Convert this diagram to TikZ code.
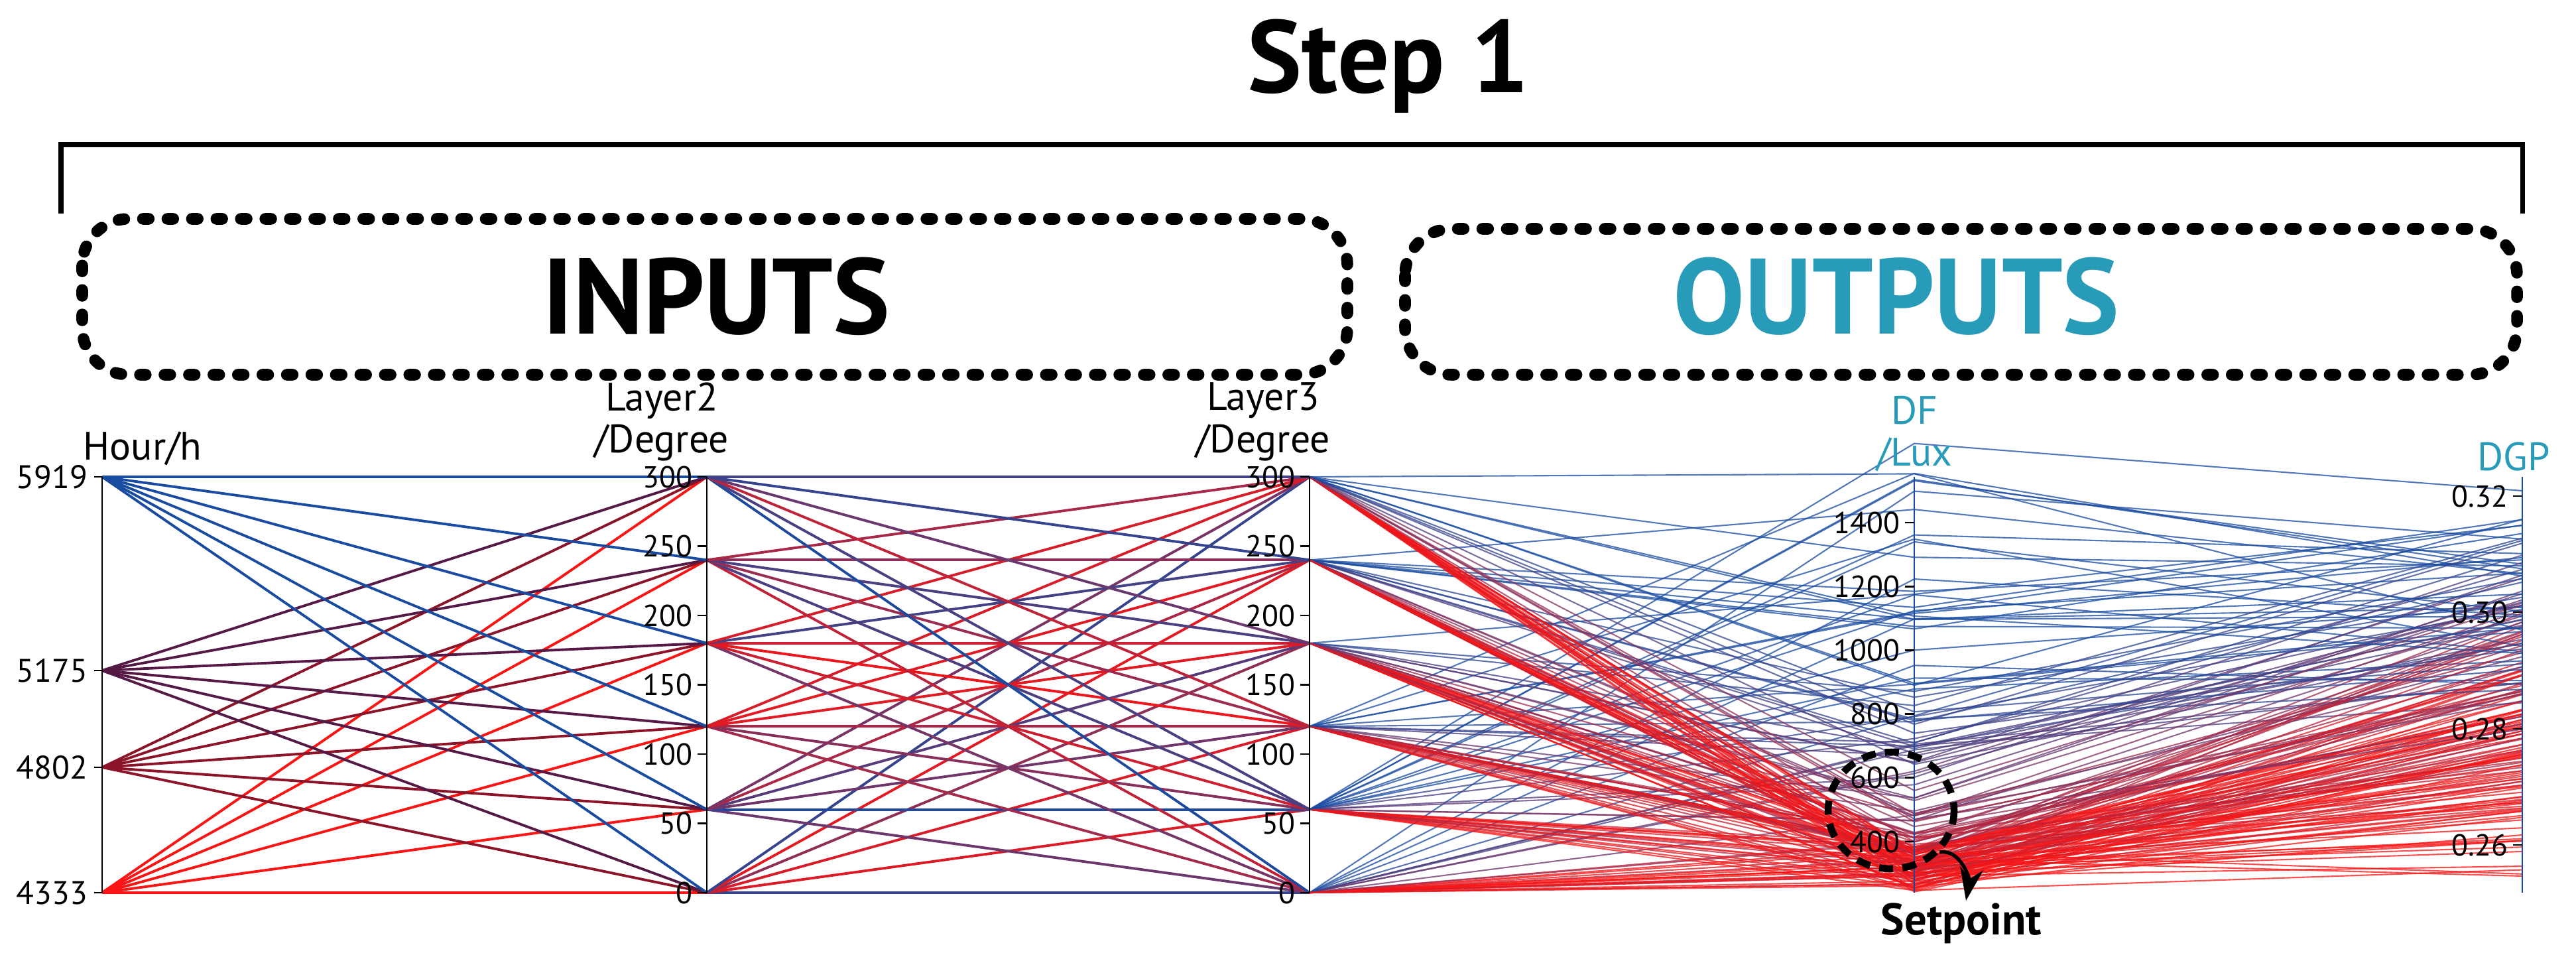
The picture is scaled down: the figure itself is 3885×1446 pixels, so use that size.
\documentclass[tikz,border=0pt]{standalone}
\usepackage{fontspec}
\setmainfont{PT Sans}
\usetikzlibrary{arrows.meta}
\definecolor{tealc}{RGB}{40,155,185}
\definecolor{bl}{RGB}{25,75,160}
\definecolor{rd}{RGB}{250,20,20}
\definecolor{pu}{RGB}{85,25,70}
\definecolor{dr}{RGB}{140,20,40}
\tikzset{
  ax/.style={line width=0.8pt,black},
  tick/.style={font=\fontsize{13}{13}\selectfont,anchor=east,inner sep=2pt},
  ttl/.style={font=\fontsize{17}{18}\selectfont,align=center},
  dotbox/.style={line width=5pt,dash pattern=on 2.5pt off 8pt,line cap=round,rounded corners=20pt},
  inl/.style={line width=1.1pt},
  outl/.style={line width=0.6pt,opacity=0.75}
}
\begin{document}
\begin{tikzpicture}[x=0.01cm,y=-0.01cm]
\useasboundingbox (0,0) rectangle (3885,1446);
% title and bracket
\node[font=\fontsize{44}{44}\selectfont\bfseries] (title) at (2094,100) {Step 1};
\draw[line width=2pt] (92,322) -- (92,218) -- (3804,218) -- (3804,322);
\draw[dotbox] (124,330) rectangle (2032,565);
\draw[dotbox] (2119,345) rectangle (3796,565);
\node[font=\fontsize{46}{46}\selectfont\bfseries] (inp) at (1080,447) {INPUTS};
\node[font=\fontsize{46}{46}\selectfont\bfseries,text=tealc] (outp) at (2860,447) {OUTPUTS};
% input lines: hour -> layer2
\pgfmathsetseed{7}
\foreach \hy/\c in {1346/rd,1157/dr,1011/pu,719/bl}{
  \foreach \k in {0,...,5}{
    \pgfmathsetmacro\ya{1346-125.4*\k}
    \draw[inl,\c] (154,\hy) -- (1066,\ya);
  }
}
% layer2 -> layer3
\foreach \k in {0,...,5}{
  \foreach \j in {0,...,5}{
    \pgfmathsetmacro\ya{1346-125.4*\k}
    \pgfmathsetmacro\yb{1346-125.4*\j}
    \pgfmathsetmacro\p{int(100*rnd)}
    \draw[inl,bl!\p!rd] (1066,\ya) -- (1975,\yb);
  }
}
% outputs
\foreach \j in {0,...,5}{
  \foreach \n in {1,...,32}{
    \pgfmathsetmacro\u{rnd}
    \pgfmathsetmacro\yb{1346-125.4*\j}
    \pgfmathsetmacro\dy{1346-640*\u*\u*\u*\u-70*rnd}
    \pgfmathsetmacro\gy{max(740,min(1345,1346-250*rnd-380*\u))}
    \pgfmathsetmacro\p{int(min(100,100*\u*\u*1.5))}
    \draw[outl,bl!\p!rd] (1975,\yb) -- (2887,\dy) -- (3804,\gy);
  }
}
% axes
\draw[ax] (154,719) -- (154,1346);
\draw[ax] (1066,719) -- (1066,1346);
\draw[ax] (1975,719) -- (1975,1346);
\draw[line width=0.8pt,bl] (2887,719) -- (2887,1346);
\draw[line width=0.8pt,bl] (3804,719) -- (3804,1346);
% hour ticks
\foreach \y/\t in {719/5919,1011/5175,1157/4802,1346/4333}{
  \draw[ax] (142,\y) -- (154,\y);
  \node[tick,font=\fontsize{14}{14}\selectfont] at (140,\y) {\t};
}
% layer ticks
\foreach \x in {1066,1975}{
  \foreach \k in {0,...,6}{
    \pgfmathsetmacro\yy{1346-104.5*\k}
    \pgfmathtruncatemacro\v{50*\k}
    \draw[ax] (\x-14,\yy) -- (\x,\yy);
    \node[tick] at (\x-14,\yy) {\v};
  }
}
% DF ticks
\foreach \v in {400,600,...,1400}{
  \pgfmathsetmacro\yy{1269-(\v-400)*0.481}
  \draw[ax] (2873,\yy) -- (2887,\yy);
  \node[tick] at (2873,\yy) {\v};
}
% DGP ticks
\foreach \y/\t in {748/0.32,923/0.30,1099/0.28,1274/0.26}{
  \draw[ax] (3790,\y) -- (3804,\y);
  \node[tick] at (3790,\y) {\t};
}
% axis titles
\node[ttl] (h) at (215,676) {Hour/h};
\node[ttl] (l2) at (998,636) {Layer2\\/Degree};
\node[ttl] (l3) at (1905,636) {Layer3\\/Degree};
\node[ttl,text=tealc] (df) at (2887,654) {DF\\/Lux};
\node[ttl,text=tealc] (dgp) at (3791,689) {DGP};
% setpoint
\draw[line width=3pt,dash pattern=on 6pt off 4pt] (2852,1222) ellipse (95 and 88);
\node[font=\fontsize{19}{19}\selectfont\bfseries] (sp) at (2958,1392) {Setpoint};
\coordinate (spa) at (2925,1285);
\draw[line width=1.5pt,-{Stealth[length=14pt,width=10pt]}] (spa) to[out=10,in=80] (2965,1358);
\end{tikzpicture}
\end{document}
